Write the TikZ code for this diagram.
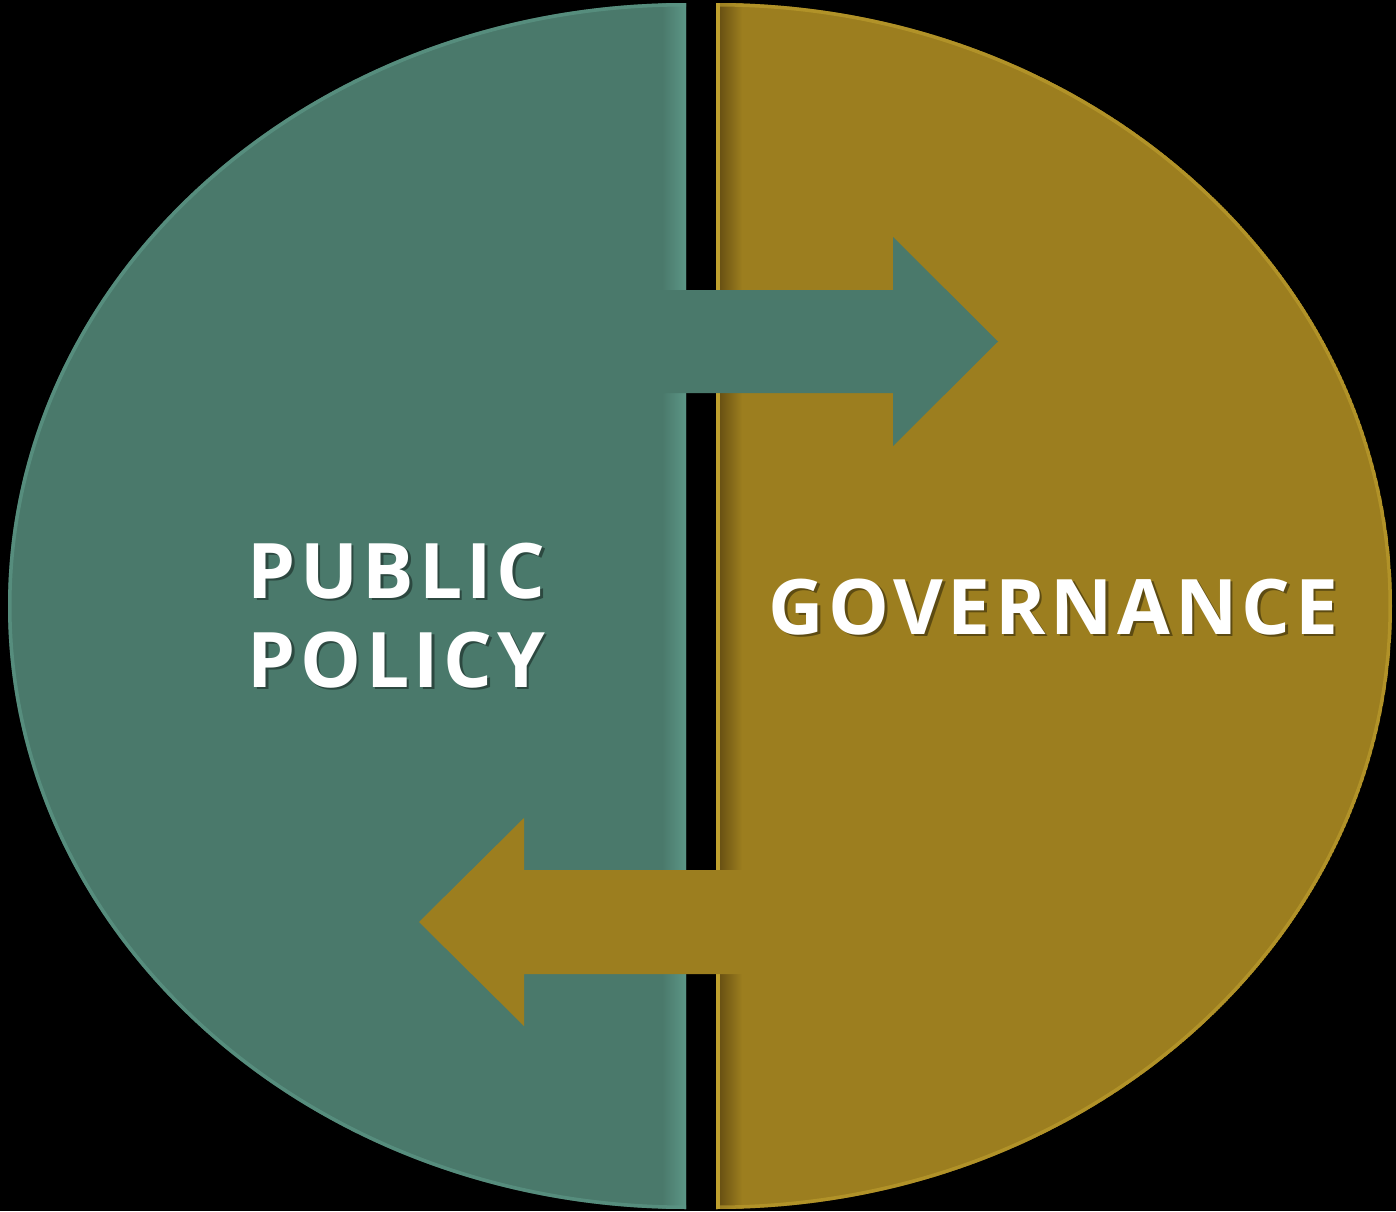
\documentclass[tikz,border=0pt]{standalone}
\usepackage{fontspec}
\setmainfont{Open Sans}
\newfontfamily\tagfont[LetterSpace=6]{Open Sans}
\usepackage{tikz}
\definecolor{ppteal}{HTML}{4A796B}
\definecolor{pprim}{HTML}{5C9686}
\definecolor{govgold}{HTML}{9C7E1F}
\definecolor{govdark}{HTML}{6A5213}
\definecolor{govrim}{HTML}{BFA02E}

\begin{document}
\begin{tikzpicture}[
        tagtext/.style={font=\tagfont\bfseries\fontsize{21.8}{25.3}\selectfont, text=white, align=left, inner sep=0pt},
        tagshadow/.style={tagtext, text=black, opacity=0.4}
    ]
    \fill[black] (0,0) rectangle (13.96,12.11);
    \useasboundingbox (0,0) rectangle (13.96,12.11);
    % left half: public policy
    \begin{scope}
        \clip (0,0) rectangle (6.86,12.11);
        \clip (6.86,6.05) ellipse [x radius=6.78, y radius=6.03];
        \fill[ppteal] (6.86,6.05) ellipse [x radius=6.78, y radius=6.03];
        \shade[left color=ppteal, right color=pprim] (6.62,0) rectangle (6.86,12.11);
        \draw[pprim, line width=2pt, opacity=.7] (6.86,6.05) ellipse [x radius=6.78, y radius=6.03];
    \end{scope}
    % right half: governance
    \begin{scope}
        \clip (7.16,0) rectangle (13.96,12.11);
        \clip (7.16,6.05) ellipse [x radius=6.76, y radius=6.03];
        \fill[govgold] (7.16,6.05) ellipse [x radius=6.76, y radius=6.03];
        \shade[left color=govdark, right color=govgold] (7.20,0) rectangle (7.42,12.11);
        \fill[govrim] (7.16,0) rectangle (7.20,12.11);
        \draw[govrim, line width=2pt, opacity=.6] (7.16,6.05) ellipse [x radius=6.76, y radius=6.03];
    \end{scope}
    % arrows
    \fill[ppteal] (5.66,9.21) -- (8.93,9.21) -- (8.93,9.74) -- (9.98,8.695)
        -- (8.93,7.65) -- (8.93,8.18) -- (5.66,8.18) -- cycle;
    \fill[govgold] (8.68,3.41) -- (5.24,3.41) -- (5.24,3.93) -- (4.19,2.89)
        -- (5.24,1.85) -- (5.24,2.37) -- (8.68,2.37) -- cycle;
    % labels
    \node[tagshadow, anchor=north west] (policy-shadow) at (2.495,6.665) {PUBLIC\\POLICY};
    \node[tagtext, anchor=north west] (policy) at (2.47,6.69) {PUBLIC\\POLICY};
    \node[tagshadow, anchor=base west] (gov-shadow) at (7.705,5.745) {GOVERNANCE};
    \node[tagtext, anchor=base west] (gov) at (7.68,5.77) {GOVERNANCE};
\end{tikzpicture}
\end{document}
